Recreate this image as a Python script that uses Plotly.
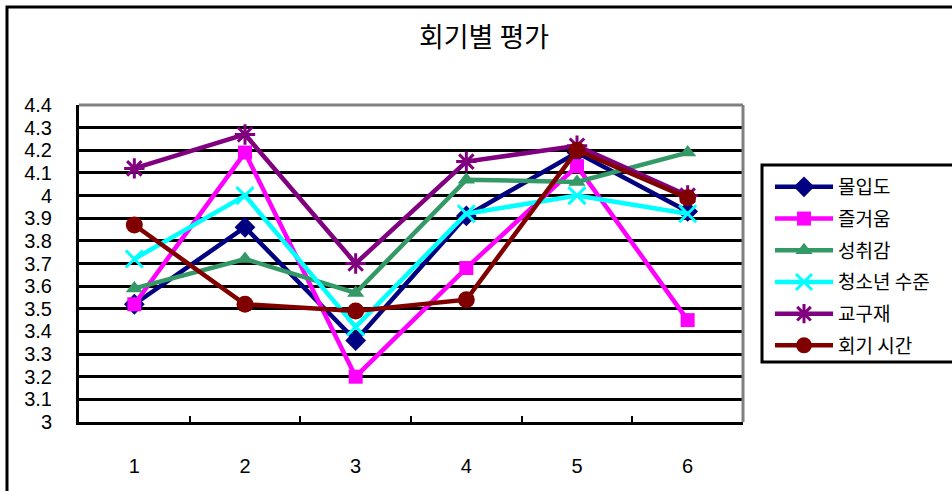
import plotly.graph_objects as go

# Session numbers (x categories)
sessions = ["1", "2", "3", "4", "5", "6"]

# Evaluation scores per item, one list per series
immersion = [3.52, 3.86, 3.36, 3.91, 4.19, 3.93]
enjoyment = [3.52, 4.19, 3.20, 3.68, 4.13, 3.45]
achievement = [3.59, 3.72, 3.57, 4.07, 4.06, 4.19]
youth_level = [3.72, 4.00, 3.42, 3.92, 4.00, 3.92]
materials = [4.12, 4.27, 3.70, 4.15, 4.22, 4.00]
session_time = [3.87, 3.52, 3.49, 3.54, 4.20, 3.99]

series_names = ["몰입도", "즐거움", "성취감", "청소년 수준", "교구재", "회기 시간"]
y_tick_vals = [3.0, 3.1, 3.2, 3.3, 3.4, 3.5, 3.6, 3.7, 3.8, 3.9, 4.0, 4.1, 4.2, 4.3, 4.4]
y_tick_text = ["3", "3.1", "3.2", "3.3", "3.4", "3.5", "3.6", "3.7", "3.8", "3.9",
               "4", "4.1", "4.2", "4.3", "4.4"]

W, H = 952, 491
ML, MR, MT, MB = 79, W - 743, 105, H - 422

styles = [
    dict(color="#000080", symbol="diamond", size=16),
    dict(color="#FF00FF", symbol="square", size=14),
    dict(color="#339966", symbol="triangle-up", size=15),
    dict(color="#00FFFF", symbol="x-thin-open", size=17),
    dict(color="#800080", symbol="asterisk-open", size=17),
    dict(color="#800000", symbol="circle", size=17),
]
values = [immersion, enjoyment, achievement, youth_level, materials, session_time]

fig = go.Figure()
for i, (name, vals, st) in enumerate(zip(series_names, values, styles)):
    open_sym = st["symbol"].endswith("-open")
    fig.add_trace(go.Scatter(
        x=sessions, y=vals, name=name, mode="lines+markers",
        legendgroup=f"g{i}",
        line=dict(color=st["color"], width=4.5),
        marker=dict(symbol=st["symbol"], size=st["size"], color=st["color"],
                    line=dict(color=st["color"], width=3 if open_sym else 0)),
    ))

pw = W - ML - MR
ph = H - MT - MB


def px_x(p):
    return (p - ML) / pw


def px_y(p):
    return (H - MB - p) / ph


shapes = [
    # outer chart frame
    dict(type="rect", xref="paper", yref="paper",
         x0=px_x(7), x1=px_x(W + 10), y0=px_y(H + 10), y1=px_y(7),
         line=dict(color="black", width=3), layer="below"),
    # legend frame
    dict(type="rect", xref="paper", yref="paper",
         x0=px_x(762), x1=px_x(W + 10), y0=px_y(362), y1=px_y(165),
         line=dict(color="black", width=3), layer="below"),
    # plot-area border (top and right in gray)
    dict(type="line", xref="paper", yref="paper", x0=0, x1=1, y0=1, y1=1,
         line=dict(color="#808080", width=3)),
    dict(type="line", xref="paper", yref="paper", x0=1, x1=1, y0=0, y1=1,
         line=dict(color="#808080", width=3)),
]

fig.update_layout(
    width=W, height=H,
    margin=dict(l=ML, r=MR, t=MT, b=MB),
    paper_bgcolor="white", plot_bgcolor="white",
    title=dict(text="회기별 평가", x=484 / W, xanchor="center",
               y=1 - 38 / H, yanchor="middle",
               font=dict(family="Noto Sans CJK KR", size=27, color="black")),
    font=dict(family="Liberation Sans", color="black"),
    shapes=shapes,
    showlegend=True,
    legend=dict(
        x=px_x(770), xanchor="left", y=px_y(168), yanchor="top",
        bgcolor="rgba(0,0,0,0)", borderwidth=0,
        traceorder="grouped", tracegroupgap=4,
        itemwidth=58,
        font=dict(family="Noto Sans CJK KR", size=19, color="black"),
    ),
    xaxis=dict(
        type="category", range=[-0.5, 5.5],
        showgrid=False, zeroline=False,
        showline=True, linecolor="black", linewidth=3,
        ticks="inside", tickson="boundaries", ticklen=6, tickwidth=2, tickcolor="black",
        ticklabelstandoff=24,
        tickfont=dict(family="Liberation Sans", size=20, color="black"),
    ),
    yaxis=dict(
        range=[3.0, 4.4],
        tickvals=y_tick_vals, ticktext=y_tick_text,
        showgrid=True, gridcolor="black", gridwidth=3,
        zeroline=False,
        showline=True, linecolor="black", linewidth=3,
        ticks="", ticklabelstandoff=20,
        tickfont=dict(family="Liberation Sans", size=20, color="black"),
    ),
)

fig.write_html("out.html")
